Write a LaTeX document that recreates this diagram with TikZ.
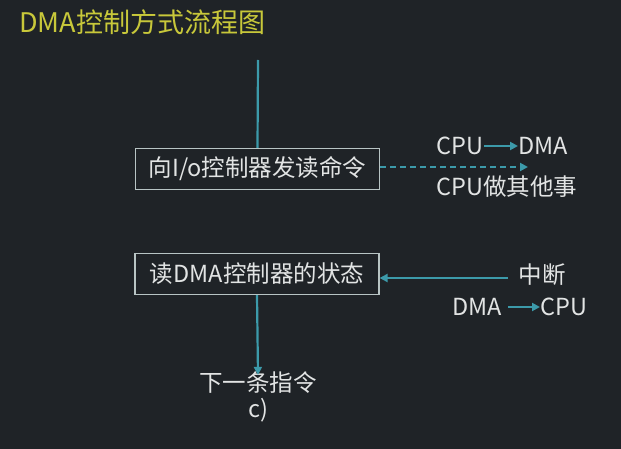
\documentclass[tikz,border=0pt]{standalone}
\usepackage{fontspec}
\setmainfont{Noto Sans CJK SC}
\usetikzlibrary{arrows.meta}
\definecolor{bg}{HTML}{1F2327}
\definecolor{txt}{HTML}{E2E4E4}
\definecolor{teal}{HTML}{3C9AAA}
\definecolor{ttl}{HTML}{C8C83A}
\definecolor{boxc}{HTML}{B8C4C4}
\begin{document}
\begin{tikzpicture}[x=1pt,y=-1pt,
  lbl/.style={text=txt,font=\fontsize{23.5}{26}\selectfont,inner sep=0pt},
  stepbox/.style={draw=boxc,line width=1.2pt,text=txt,font=\fontsize{23.5}{26}\selectfont,minimum width=244pt,minimum height=41pt,inner sep=0pt},
  conn/.style={draw=teal,line width=2.2pt,-{Triangle[length=8pt,width=8pt]}},
  plain/.style={draw=teal,line width=2.2pt}]
\fill[bg] (0,0) rectangle (621,449);
\useasboundingbox (0,0) rectangle (621,449);
\node[anchor=west,text=ttl,font=\fontsize{27}{30}\selectfont,inner sep=0pt] (title) at (19,22) {DMA控制方式流程图};
\coordinate (top) at (258,60);
\node[stepbox] (b1) at (257.5,169) {向I/o控制器发读命令};
\node[stepbox] (b2) at (257,274) {读DMA控制器的状态};
\draw[plain] (top) -- (b1.north);
\coordinate (dend) at (528,167);
\draw[teal,line width=2pt,dash pattern=on 6pt off 4pt,-{Triangle[length=8pt,width=8pt]}] (b1.east |- dend) -- (dend);
\node[lbl,anchor=east] (cpu1) at (484,146) {CPU};
\node[lbl,anchor=west] (dma1) at (518,146) {DMA};
\draw[conn] (cpu1.east) -- (dma1.west);
\node[lbl] (other) at (507,187) {CPU做其他事};
\node[lbl] (intr) at (542,275) {中断};
\coordinate (istart) at (508,278);
\draw[conn] (istart) -- (b2.east |- istart);
\node[lbl,anchor=east] (dma2) at (502,307) {DMA};
\node[lbl,anchor=west] (cpu2) at (540,307) {CPU};
\draw[conn] ([xshift=6pt]dma2.east) -- (cpu2.west);
\node[lbl] (next) at (258,383) {下一条指令};
\node[lbl] (c) at (258,410) {c)};
\draw[conn] (b2.south) -- ([yshift=-3pt]next.north);
\end{tikzpicture}
\end{document}
